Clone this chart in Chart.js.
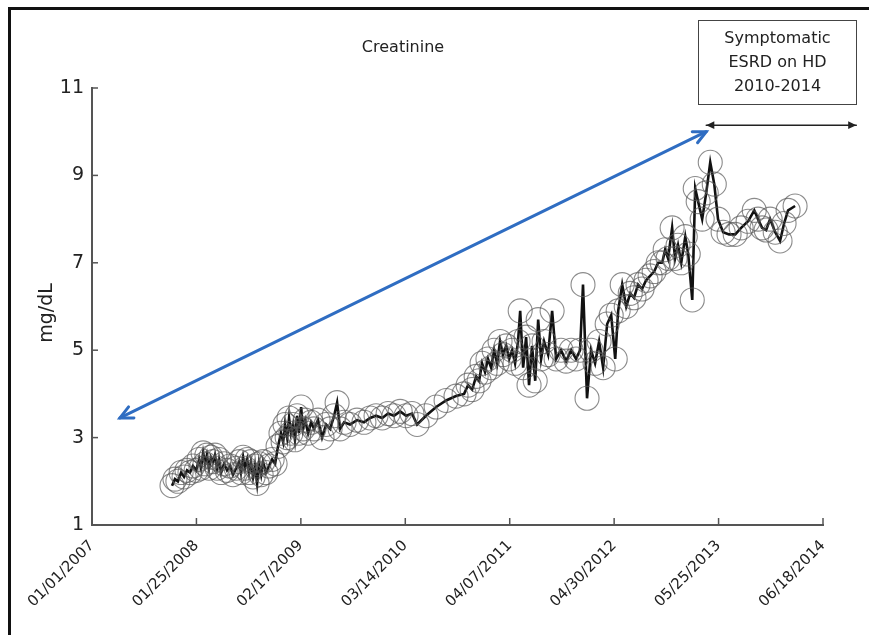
<!DOCTYPE html>
<html>
<head>
<meta charset="utf-8">
<script src="https://cdn.jsdelivr.net/npm/chart.js@4"></script>
<style>
  body { margin: 0; background: #fff; }
  #wrap { position: relative; width: 869px; height: 635px; font-family: "DejaVu Sans", Verdana, sans-serif; }
  #frame { position: absolute; left: 8px; top: 7px; right: 0; bottom: 0; border-top: 3px solid #111; border-left: 3px solid #111; pointer-events: none; }
  #title { position: absolute; left: 303px; width: 200px; top: 37px; text-align: center; font-size: 16px; color: #222; }
  #note { position: absolute; left: 698px; top: 20px; width: 159px; height: 85px; border: 1px solid #444; text-align: center; font-size: 16px; line-height: 24px; padding-top: 5px; box-sizing: border-box; color: #222; }
  canvas { position: absolute; left: 0; top: 0; }
</style>
</head>
<body>
<div id="wrap">
  <canvas id="creatChart" width="869" height="635"></canvas>
  <div id="frame"></div>
  <div id="title">Creatinine</div>
  <div id="note">Symptomatic<br>ESRD on HD<br>2010-2014</div>
</div>
<script>
// x tick labels (one every 389 days from 01/01/2007)
const tickLabels = ['01/01/2007', '01/25/2008', '02/17/2009', '03/14/2010', '04/07/2011', '04/30/2012', '05/25/2013', '06/18/2014'];
const tickStep = 389;

// days since 01/01/2007 for each lab draw
const days = [298, 309, 320, 332, 343, 354, 365, 376, 388, 399, 406, 414, 421, 428, 436, 443, 451, 458, 466, 473,
  481, 492, 503, 514, 525, 537, 548, 555, 563, 570, 578, 585, 592, 600, 607, 615, 622, 630, 637, 648,
  659, 671, 682, 693, 704, 712, 719, 727, 734, 741, 749, 756, 764, 771, 779, 786, 794, 805, 816, 827,
  842, 857, 872, 887, 902, 913, 924, 939, 961, 987, 1013, 1036, 1058, 1081, 1103, 1125, 1148, 1170, 1192, 1211,
  1244, 1282, 1319, 1356, 1386, 1401, 1416, 1431, 1442, 1453, 1464, 1475, 1487, 1498, 1509, 1520, 1531, 1543, 1554, 1565,
  1576, 1587, 1595, 1606, 1617, 1628, 1639, 1651, 1662, 1673, 1684, 1699, 1714, 1729, 1747, 1766, 1785, 1803, 1818, 1829,
  1844, 1859, 1874, 1889, 1904, 1919, 1934, 1949, 1960, 1975, 1990, 2005, 2019, 2034, 2049, 2064, 2079, 2094, 2109, 2124,
  2135, 2146, 2161, 2172, 2183, 2195, 2210, 2221, 2236, 2247, 2258, 2273, 2288, 2303, 2318, 2332, 2351, 2373, 2396, 2418,
  2444, 2467, 2481, 2496, 2511, 2526, 2545, 2563, 2578, 2593, 2619];

// creatinine, mg/dL
const creatinine = [1.9, 2.05, 2.0, 2.2, 2.1, 2.25, 2.2, 2.35, 2.25, 2.5, 2.3, 2.65, 2.4, 2.6, 2.3, 2.55, 2.45, 2.6, 2.3, 2.5,
  2.2, 2.4, 2.25, 2.35, 2.15, 2.3, 2.45, 2.2, 2.55, 2.3, 2.5, 2.2, 2.45, 2.1, 2.35, 1.95, 2.4, 2.15, 2.45, 2.2,
  2.35, 2.5, 2.4, 2.8, 3.1, 2.9, 3.3, 3.0, 3.45, 3.1, 3.3, 2.95, 3.5, 3.1, 3.7, 3.2, 3.4, 3.1, 3.35, 3.2,
  3.4, 3.0, 3.3, 3.2, 3.5, 3.8, 3.2, 3.35, 3.3, 3.4, 3.35, 3.45, 3.5, 3.45, 3.55, 3.5, 3.6, 3.5, 3.55, 3.3,
  3.5, 3.7, 3.85, 3.95, 4.0, 4.2, 4.1, 4.4, 4.3, 4.7, 4.5, 4.8, 4.6, 5.0, 4.7, 5.2, 4.9, 5.1, 4.8, 5.0,
  4.7, 5.2, 5.9, 4.6, 5.3, 4.2, 5.1, 4.3, 5.7, 4.8, 5.2, 4.9, 5.9, 4.8, 5.0, 4.75, 5.0, 4.8, 5.0, 6.5,
  3.9, 5.0, 4.7, 5.2, 4.6, 5.6, 5.8, 4.8, 5.9, 6.5, 6.0, 6.3, 6.2, 6.5, 6.4, 6.6, 6.7, 6.8, 7.0, 7.0,
  7.3, 7.1, 7.8, 7.1, 7.4, 7.0, 7.6, 7.2, 6.15, 8.7, 8.4, 8.0, 8.6, 9.3, 8.8, 8.0, 7.7, 7.65, 7.65, 7.8,
  7.95, 8.2, 8.0, 7.8, 7.75, 8.0, 7.7, 7.5, 7.9, 8.2, 8.3];

// annotation arrows in data units: [x1, y1, x2, y2]
const trendArrow = [104, 3.45, 2288, 10.0];
const hdArrow = [2288, 10.15, 2847, 10.15];
const yTitle = 'mg/dL';

function arrowHead(ctx, x, y, ang, len, filled) {
  const a1 = ang + Math.PI - 0.45, a2 = ang + Math.PI + 0.45;
  ctx.beginPath();
  ctx.moveTo(x + len * Math.cos(a1), y + len * Math.sin(a1));
  ctx.lineTo(x, y);
  ctx.lineTo(x + len * Math.cos(a2), y + len * Math.sin(a2));
  if (filled) { ctx.closePath(); ctx.fill(); } else { ctx.stroke(); }
}

function drawArrow(ctx, xs, ys, arr, color, width, len, filled) {
  const x1 = xs.getPixelForValue(arr[0]), y1 = ys.getPixelForValue(arr[1]);
  const x2 = xs.getPixelForValue(arr[2]), y2 = ys.getPixelForValue(arr[3]);
  ctx.save();
  ctx.strokeStyle = color; ctx.fillStyle = color; ctx.lineWidth = width; ctx.lineCap = 'round';
  ctx.beginPath(); ctx.moveTo(x1, y1); ctx.lineTo(x2, y2); ctx.stroke();
  const ang = Math.atan2(y2 - y1, x2 - x1);
  arrowHead(ctx, x2, y2, ang, len, filled);
  arrowHead(ctx, x1, y1, ang + Math.PI, len, filled);
  ctx.restore();
}

const extras = {
  id: 'extras',
  afterDraw(chart) {
    const ctx = chart.ctx, xs = chart.scales.x, ys = chart.scales.y;
    // inward tick marks
    ctx.save();
    ctx.strokeStyle = '#555'; ctx.lineWidth = 1.5;
    xs.ticks.forEach(t => {
      const px = xs.getPixelForValue(t.value);
      ctx.beginPath(); ctx.moveTo(px, ys.bottom); ctx.lineTo(px, ys.bottom - 7); ctx.stroke();
    });
    ys.ticks.forEach(t => {
      const py = ys.getPixelForValue(t.value);
      ctx.beginPath(); ctx.moveTo(xs.left, py); ctx.lineTo(xs.left + 6, py); ctx.stroke();
    });
    // y axis title, a little below the middle as in the source figure
    ctx.translate(47, 313);
    ctx.rotate(-Math.PI / 2);
    ctx.fillStyle = '#222';
    ctx.font = '19px "DejaVu Sans"';
    ctx.textAlign = 'center';
    ctx.textBaseline = 'middle';
    ctx.fillText(yTitle, 0, 0);
    ctx.restore();
    drawArrow(ctx, xs, ys, trendArrow, '#2f6dc2', 3, 14, false);
    drawArrow(ctx, xs, ys, hdArrow, '#222', 1.5, 9, true);
  }
};

const points = days.map((d, i) => ({ x: d, y: creatinine[i] }));

new Chart(document.getElementById('creatChart'), {
  type: 'line',
  data: {
    datasets: [{
      label: 'Creatinine',
      data: points,
      borderColor: '#111',
      borderWidth: 2.6,
      tension: 0,
      pointRadius: 12,
      pointBorderWidth: 1.1,
      pointBorderColor: 'rgba(90,90,90,0.7)',
      pointBackgroundColor: 'rgba(0,0,0,0)'
    }]
  },
  options: {
    responsive: false,
    animation: false,
    layout: { padding: { top: 88, right: 46, left: 0, bottom: 0 } },
    plugins: { legend: { display: false }, tooltip: { enabled: false } },
    scales: {
      x: {
        type: 'linear',
        min: 0,
        max: tickStep * (tickLabels.length - 1),
        grid: { display: false, drawTicks: false, tickLength: 0 },
        border: { display: true, color: '#555', width: 2 },
        afterFit: s => { s.height = 110; },
        ticks: {
          stepSize: tickStep,
          autoSkip: false,
          minRotation: 45,
          maxRotation: 45,
          padding: 12,
          color: '#222',
          font: { family: 'DejaVu Sans', size: 15 },
          callback: (v) => tickLabels[Math.round(v / tickStep)]
        }
      },
      y: {
        min: 1,
        max: 11,
        grid: { display: false, drawTicks: false, tickLength: 0 },
        border: { display: true, color: '#555', width: 2 },
        afterFit: s => { s.width = 92; },
        ticks: {
          stepSize: 2,
          padding: 8,
          color: '#222',
          font: { family: 'DejaVu Sans', size: 19 }
        }
      }
    }
  },
  plugins: [extras]
});
</script>
</body>
</html>
